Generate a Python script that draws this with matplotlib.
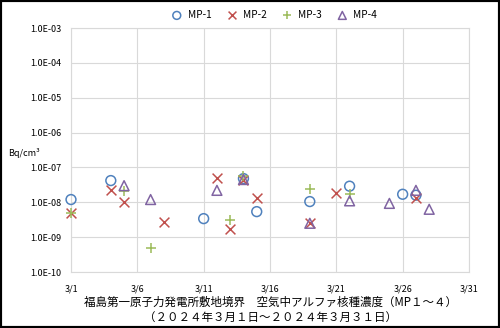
import matplotlib
matplotlib.use("Agg")
import matplotlib.pyplot as plt
from matplotlib.patches import Rectangle

plt.rcParams['font.family'] = ['Noto Sans CJK JP', 'DejaVu Sans']

# ---- data (day of March 2024, concentration Bq/cm3) ----
mp1_days = [1, 4, 11, 14, 15, 19, 22, 26, 27]
mp1_vals = [1.2e-8, 4.2e-8, 3.4e-9, 4.8e-8, 5.4e-9, 1.05e-8, 2.9e-8, 1.7e-8, 1.6e-8]

mp2_days = [1, 4, 5, 8, 12, 13, 14, 15, 19, 21, 27]
mp2_vals = [5.0e-9, 2.3e-8, 1.0e-8, 2.8e-9, 4.9e-8, 1.7e-9, 4.5e-8, 1.3e-8, 2.6e-9, 1.9e-8, 1.3e-8]

mp3_days = [1, 5, 7, 13, 14, 19, 22]
mp3_vals = [4.8e-9, 2.1e-8, 5.0e-10, 3.2e-9, 5.5e-8, 2.4e-8, 1.7e-8]

mp4_days = [5, 7, 12, 14, 19, 22, 25, 27, 28]
mp4_vals = [3.0e-8, 1.2e-8, 2.2e-8, 4.5e-8, 2.5e-9, 1.1e-8, 9.3e-9, 2.2e-8, 6.3e-9]

x_ticks = [1, 6, 11, 16, 21, 26, 31]
x_labels = ["3/1", "3/6", "3/11", "3/16", "3/21", "3/26", "3/31"]
y_ticks = [1e-10, 1e-9, 1e-8, 1e-7, 1e-6, 1e-5, 1e-4, 1e-3]
y_labels = ["1.0E-10", "1.0E-09", "1.0E-08", "1.0E-07", "1.0E-06", "1.0E-05", "1.0E-04", "1.0E-03"]

fig = plt.figure(figsize=(5.0, 3.28), dpi=100)
ax = fig.add_axes([0.142, 0.1707, 0.796, 0.7439])

ms = 50
ax.scatter(mp1_days, mp1_vals, s=ms, marker="o", facecolors="none",
           edgecolors="#4F81BD", linewidths=1.1, label="MP-1", zorder=3, clip_on=False)
ax.scatter(mp2_days, mp2_vals, s=ms, marker="x", color="#C0504D",
           linewidths=1.1, label="MP-2", zorder=3, clip_on=False)
ax.scatter(mp3_days, mp3_vals, s=ms, marker="+", color="#9BBB59",
           linewidths=1.1, label="MP-3", zorder=3, clip_on=False)
ax.scatter(mp4_days, mp4_vals, s=ms, marker="^", facecolors="none",
           edgecolors="#8064A2", linewidths=1.1, label="MP-4", zorder=3, clip_on=False)

ax.set_yscale("log")
ax.set_ylim(1e-10, 1e-3)
ax.set_xlim(1, 31)
ax.set_yticks(y_ticks)
ax.set_yticklabels(y_labels)
ax.minorticks_off()
ax.set_xticks(x_ticks)
ax.set_xticklabels(x_labels)
ax.tick_params(axis="both", length=0, labelsize=6.5, colors="#000000")
ax.tick_params(axis="x", pad=9)
ax.tick_params(axis="y", pad=7)
ax.grid(True, color="#D9D9D9", linewidth=0.8)
for s in ax.spines.values():
    s.set_color("#D9D9D9")
    s.set_linewidth(0.8)

fig.text(0.016, 0.534, "Bq/cm³", fontsize=6.5, ha="left", va="center")

ax.legend(loc="center", bbox_to_anchor=(0.505, 1.053), ncol=4, frameon=False,
          fontsize=7.3, handletextpad=0.1, columnspacing=1.0, markerscale=0.8,
          borderaxespad=0)

fig.text(0.54, 0.079, "福島第一原子力発電所敷地境界　空気中アルファ核種濃度（MP１～４）",
         fontsize=8.3, ha="center", va="center")
fig.text(0.54, 0.033, "（２０２４年３月１日～２０２４年３月３１日）",
         fontsize=8.3, ha="center", va="center")

fig.patches.append(Rectangle((0, 0), 1, 1, transform=fig.transFigure,
                             fill=False, edgecolor="black", linewidth=3))

fig.savefig("out.png", dpi=100, facecolor="white")
